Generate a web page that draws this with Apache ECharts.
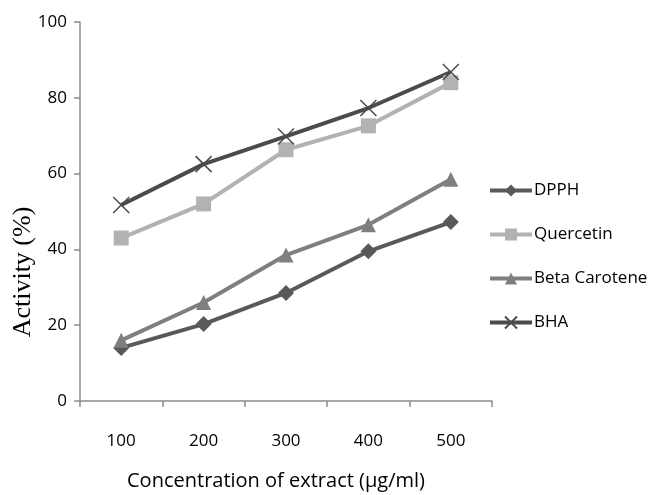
<!DOCTYPE html>
<html>
<head>
<meta charset="utf-8">
<script src="https://cdn.jsdelivr.net/npm/echarts@6/dist/echarts.min.js"></script>
<style>
    body {margin:0;background:#ffffff;}
    #chart {width:651px;height:495px;}
</style>
</head>
<body>
<div id="chart"></div>
<script>
    var categories = ['100', '200', '300', '400', '500'];
    var dpph = [14, 20.3, 28.5, 39.5, 47.2];
    var quercetin = [43, 52, 66.3, 72.6, 84];
    var betaCarotene = [16, 26, 38.5, 46.5, 58.5];
    var bha = [51.7, 62.5, 69.8, 77.3, 86.8];
    var yTicks = [0, 20, 40, 60, 80, 100];

    var chart = echarts.init(document.getElementById('chart'));

    function line(name, data, color, symbol, size) {
        return {
            name: name,
            type: 'line',
            data: data,
            symbol: symbol,
            symbolSize: size,
            lineStyle: {color: color, width: 4},
            itemStyle: {color: color},
            z: 2
        };
    }

    var option = {
        animation: false,
        backgroundColor: '#ffffff',
        grid: {left: 80, top: 22, right: 159, bottom: 94},
        legend: {
            orient: 'vertical',
            left: 483,
            top: 177,
            itemWidth: 42,
            itemHeight: 15,
            itemGap: 27,
            lineStyle: {width: 4},
            textStyle: {fontFamily: 'Open Sans', fontSize: 17, color: '#000000', padding: [0, 0, 0, -3]},
            data: ['DPPH', 'Quercetin', 'Beta Carotene', 'BHA']
        },
        graphic: [
            {
                type: 'text',
                x: 23, y: 272,
                rotation: Math.PI / 2,
                style: {
                    text: 'Activity (%)',
                    font: '26px "Liberation Serif"',
                    fill: '#000000',
                    align: 'center',
                    verticalAlign: 'middle'
                }
            },
            {
                type: 'text',
                x: 276, y: 481,
                style: {
                    text: 'Concentration of extract (µg/ml)',
                    font: '20px "Open Sans"',
                    fill: '#000000',
                    align: 'center',
                    verticalAlign: 'middle'
                }
            }
        ],
        xAxis: {
            type: 'category',
            data: categories,
            boundaryGap: true,
            axisLine: {lineStyle: {color: '#8c8c8c', width: 1.5}},
            axisTick: {show: true, length: 6, lineStyle: {color: '#8c8c8c', width: 1.5}},
            axisLabel: {fontFamily: 'Open Sans', fontSize: 17, color: '#000000', margin: 32}
        },
        yAxis: {
            type: 'value',
            min: yTicks[0],
            max: yTicks[yTicks.length - 1],
            interval: 20,
            splitLine: {show: false},
            axisLine: {show: true, lineStyle: {color: '#8c8c8c', width: 1.5}},
            axisTick: {show: true, length: 6, lineStyle: {color: '#8c8c8c', width: 1.5}},
            axisLabel: {fontFamily: 'Open Sans', fontSize: 17, color: '#000000', margin: 13}
        },
        series: [
            line('DPPH', dpph, '#595959', 'diamond', 16),
            line('Quercetin', quercetin, '#b2b2b2', 'rect', 15),
            line('Beta Carotene', betaCarotene, '#7f7f7f', 'triangle', 15),
            line('BHA', bha, '#4b4b4b', 'path://M0,0L10,10M10,0L0,10', 16)
        ]
    };
    option.series[3].itemStyle = {color: 'none', borderColor: '#4b4b4b', borderWidth: 1.5};
    chart.setOption(option);
</script>
</body>
</html>
